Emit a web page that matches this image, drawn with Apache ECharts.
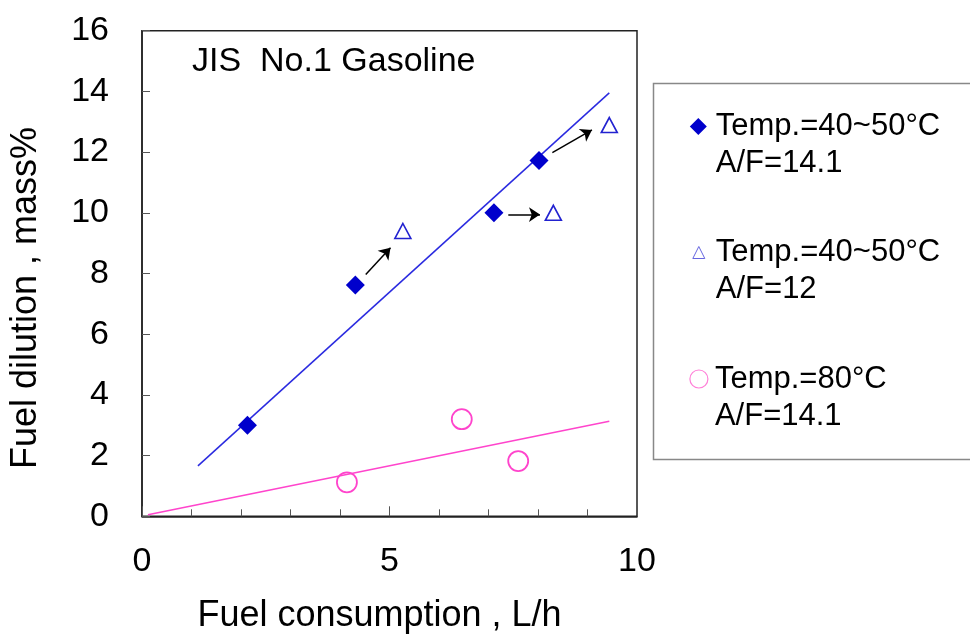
<!DOCTYPE html>
<html>
<head>
<meta charset="utf-8">
<script src="https://cdn.jsdelivr.net/npm/echarts@6/dist/echarts.min.js"></script>
<style>
html,body{margin:0;padding:0;background:#fff;}
#chart{width:970px;height:642px;}
</style>
</head>
<body>
<div id="chart"></div>
<script>
// ---- data ----
const seriesNames = ['Temp.=40~50°C\nA/F=14.1', 'Temp.=40~50°C\nA/F=12', 'Temp.=80°C\nA/F=14.1'];
const diamondX = [2.13, 4.31, 7.11, 8.02];
const diamondY = [3.0, 7.62, 10.0, 11.72];
const triangleX = [5.27, 8.31, 9.44];
const triangleY = [9.4, 10.0, 12.89];
const circleX = [4.14, 6.46, 7.6];
const circleY = [1.12, 3.2, 1.82];
const fitBlueX = [1.13, 9.44];
const fitBlueY = [1.66, 13.95];
const fitPinkX = [0.12, 9.44];
const fitPinkY = [0.05, 3.13];
const arrowFromX = [4.52, 7.40, 8.29];
const arrowFromY = [7.97, 9.94, 11.98];
const arrowToX = [5.02, 8.04, 9.09];
const arrowToY = [8.85, 9.94, 12.73];
const xTickLabels = ['0', '5', '10'];
const yTickLabels = ['0', '2', '4', '6', '8', '10', '12', '14', '16'];
const annotationText = 'JIS  No.1 Gasoline';
const xTitle = 'Fuel consumption , L/h';
const yTitle = 'Fuel dilution , mass%';

const zip = (xs, ys) => xs.map((x, i) => [x, ys[i]]);
const FONT = 'Liberation Sans, Arial, sans-serif';

const chart = echarts.init(document.getElementById('chart'), null, {renderer: 'canvas'});

function legendFor(name, icon, size, left, top, padLeft, style) {
  return {
    show: true,
    left: left, top: top,
    orient: 'vertical',
    padding: 0,
    itemWidth: size, itemHeight: size,
    selectedMode: false,
    data: [{name: name, icon: icon, itemStyle: style}],
    // a blank first line keeps the symbol level with the first text line
    formatter: n => '\u00a0\n' + n,
    textStyle: {fontFamily: FONT, fontSize: 31, color: '#000', lineHeight: 37, padding: [0, 0, 0, padLeft]}
  };
}

chart.setOption({
  animation: false,
  backgroundColor: '#fff',
  title: {
    text: annotationText,
    left: 192, top: 45,
    padding: 0,
    textStyle: {fontFamily: FONT, fontSize: 34, fontWeight: 'normal', color: '#000'}
  },
  grid: {
    left: 141.7, right: 333, top: 30.7, bottom: 125.7,
    show: true, borderColor: '#222', borderWidth: 1.5, backgroundColor: 'transparent'
  },
  graphic: [{
    type: 'rect', left: 651, top: 81,
    shape: {x: 0, y: 0, width: 340, height: 376},
    style: {fill: 'none', stroke: '#888', lineWidth: 1.5},
    silent: true, z: 0
  }],
  legend: [
    legendFor(seriesNames[0], 'diamond', 17, 689.8, 71, 4, {color: '#0000CC', borderWidth: 0}),
    legendFor(seriesNames[1], 'triangle', 12, 692.3, 197, 6, {color: 'rgba(0,0,0,0)', borderColor: '#6666E0', borderWidth: 1}),
    legendFor(seriesNames[2], 'circle', 18, 689.3, 323.5, 2, {color: 'rgba(0,0,0,0)', borderColor: '#FF80D8', borderWidth: 1.2})
  ],
  xAxis: {
    type: 'value', min: 0, max: 10, interval: 5,
    name: xTitle, nameLocation: 'middle', nameGap: 82,
    nameTextStyle: {fontFamily: FONT, fontSize: 36, color: '#000', padding: [0, 20, 0, 0]},
    axisLine: {show: true, lineStyle: {color: '#222', width: 1.5}},
    axisTick: {show: true, inside: true, length: 10, lineStyle: {color: '#555', width: 1}},
    minorTick: {show: true, splitNumber: 5, length: 7, lineStyle: {color: '#555', width: 1}},
    splitLine: {show: false},
    axisLabel: {fontFamily: FONT, fontSize: 34, color: '#000', margin: 28,
      formatter: v => xTickLabels[Math.round(v / 5)] ?? ''}
  },
  yAxis: {
    type: 'value', min: 0, max: 16, interval: 2,
    name: yTitle, nameLocation: 'middle', nameGap: 98, nameRotate: 90,
    nameTextStyle: {fontFamily: FONT, fontSize: 36, color: '#000', padding: [0, 49, 0, 0]},
    axisLine: {show: true, lineStyle: {color: '#222', width: 1.5}},
    axisTick: {show: true, inside: true, length: 8, lineStyle: {color: '#555', width: 1}},
    splitLine: {show: false},
    axisLabel: {fontFamily: FONT, fontSize: 34, color: '#000', margin: 33,
      formatter: v => yTickLabels[Math.round(v / 2)] ?? ''}
  },
  series: [
    {
      name: 'fitBlue', type: 'line', data: zip(fitBlueX, fitBlueY),
      showSymbol: false, symbol: 'none', lineStyle: {color: '#2A2AE0', width: 1.5}, z: 2
    },
    {
      name: 'fitPink', type: 'line', data: zip(fitPinkX, fitPinkY),
      showSymbol: false, symbol: 'none', lineStyle: {color: '#FF44CC', width: 1.5}, z: 2
    },
    {
      name: 'arrows', type: 'lines', coordinateSystem: 'cartesian2d',
      data: arrowFromX.map((x, i) => ({coords: [[x, arrowFromY[i]], [arrowToX[i], arrowToY[i]]]})),
      symbol: ['none', 'arrow'], symbolSize: 11,
      lineStyle: {color: '#000', width: 1.5, opacity: 1}, z: 3
    },
    {
      name: seriesNames[0], type: 'scatter', data: zip(diamondX, diamondY),
      symbol: 'diamond', symbolSize: 19,
      itemStyle: {color: '#0000CC', opacity: 1}, z: 4
    },
    {
      name: seriesNames[1], type: 'scatter', data: zip(triangleX, triangleY),
      symbol: 'triangle', symbolSize: [16, 15],
      itemStyle: {color: 'rgba(0,0,0,0)', borderColor: '#2222D0', borderWidth: 1.6, opacity: 1}, z: 4
    },
    {
      name: seriesNames[2], type: 'scatter', data: zip(circleX, circleY),
      symbol: 'circle', symbolSize: 20,
      itemStyle: {color: 'rgba(0,0,0,0)', borderColor: '#FF44CC', borderWidth: 1.8, opacity: 1}, z: 4
    }
  ]
});
</script>
</body>
</html>
